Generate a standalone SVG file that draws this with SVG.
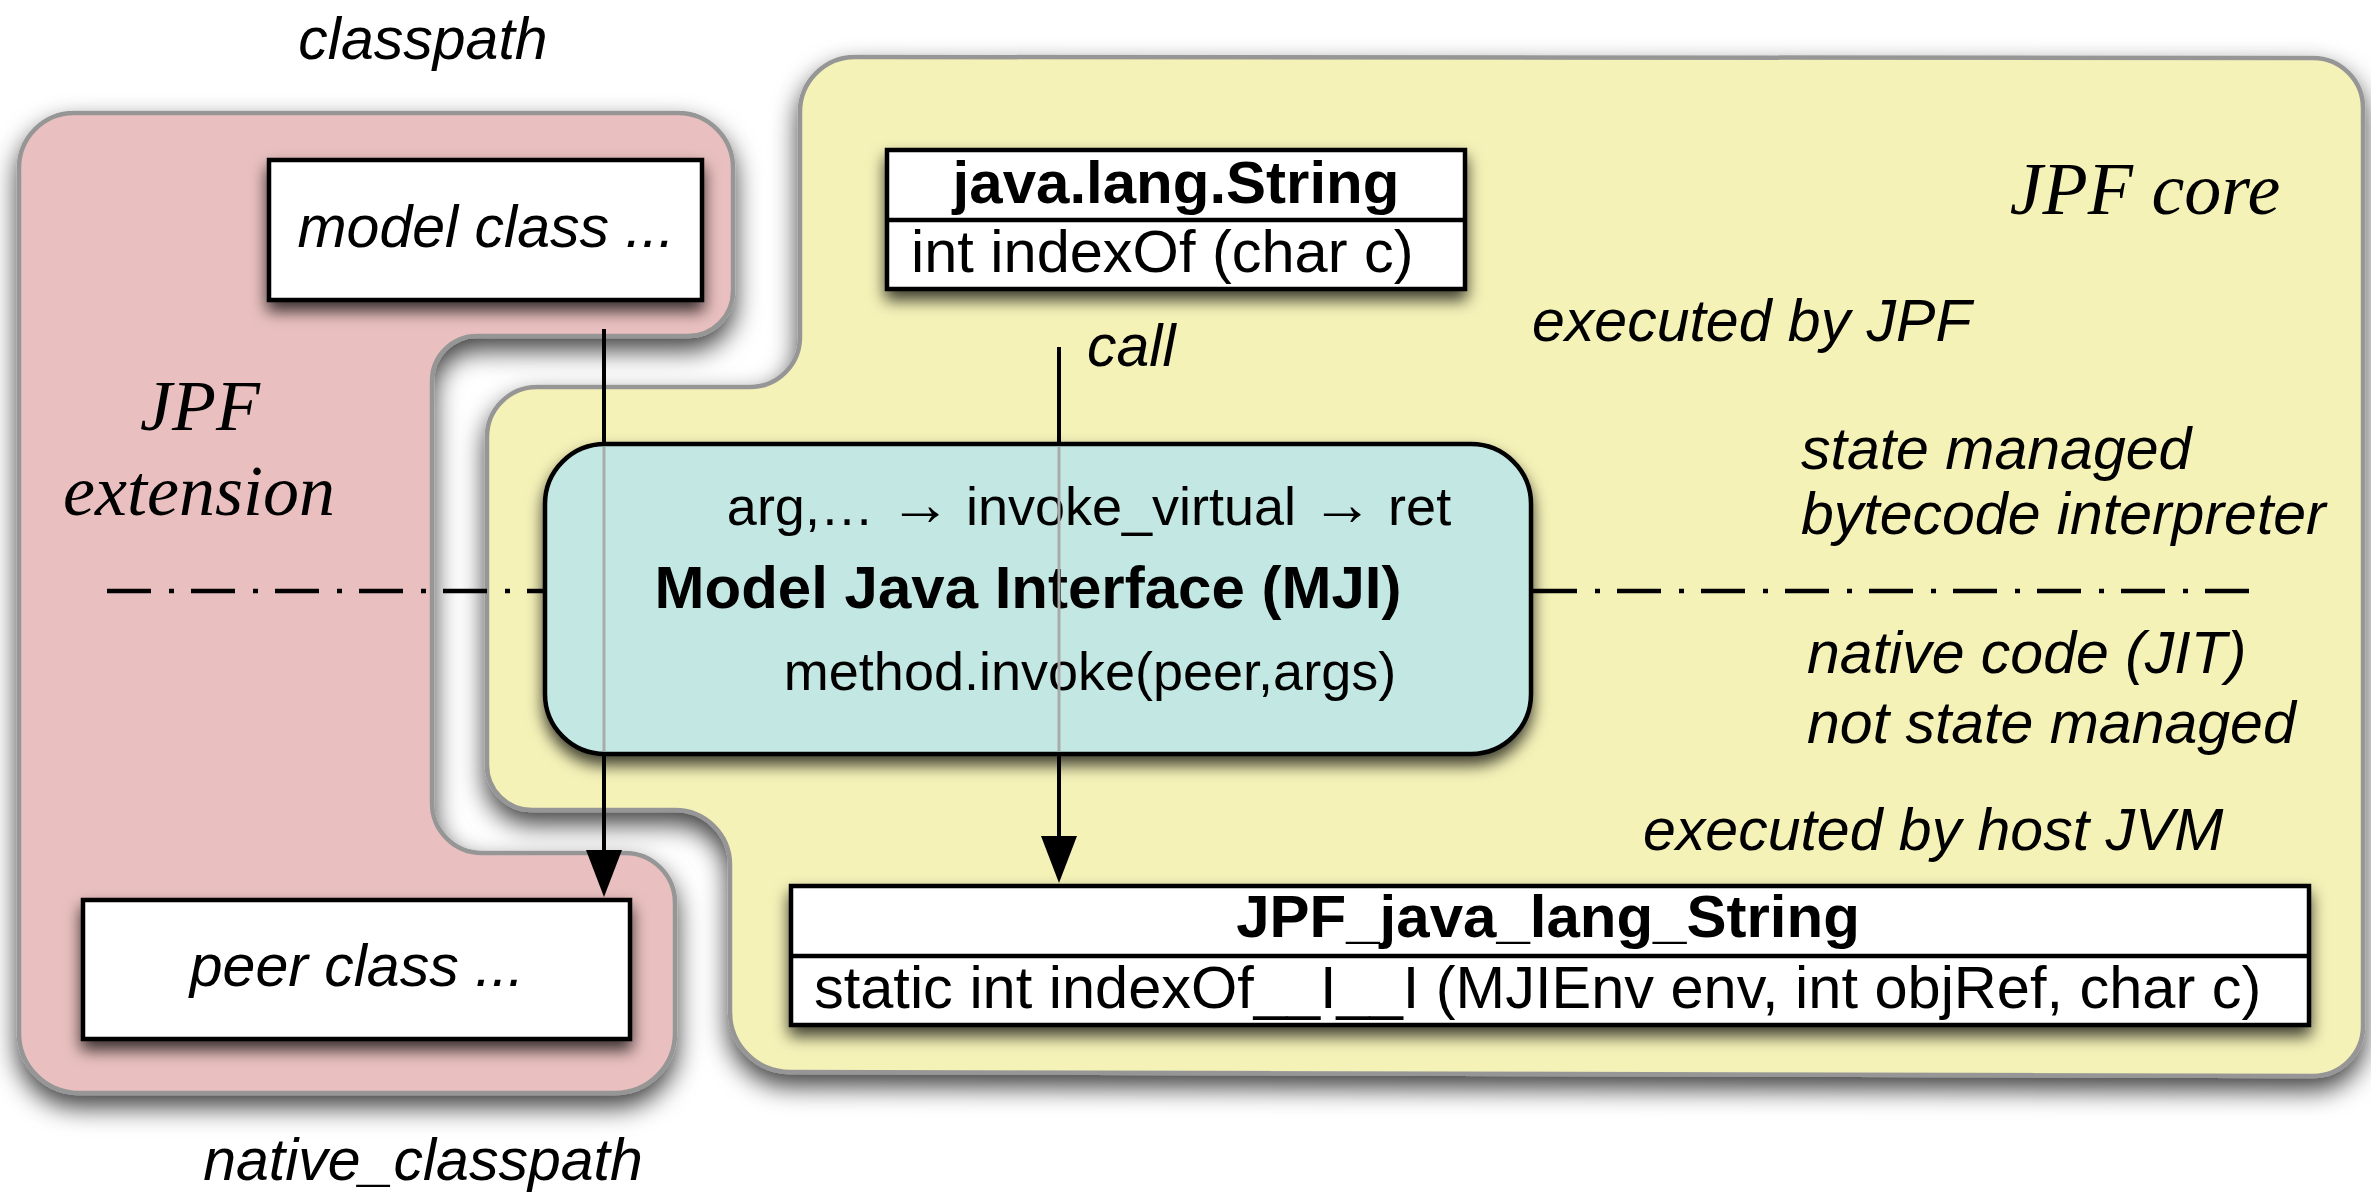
<svg xmlns="http://www.w3.org/2000/svg" width="2371" height="1195" viewBox="0 0 2371 1195">
<style>
.region{stroke:#969696;stroke-width:4.5}
.box{fill:#fff;stroke:#000;stroke-width:4.5}
.div{stroke:#000;stroke-width:4.5}
.sans{font-family:"Liberation Sans",Arial,sans-serif;fill:#000}
.it{font-style:italic;font-size:59px}
.reg{font-size:59.5px}
.small{font-size:54px}
.bold{font-weight:bold;font-size:60px}
.serif{font-family:"Liberation Serif","Times New Roman",serif;font-style:italic;fill:#000}
.conn{stroke:#000;stroke-width:4;fill:none}
.hidden{stroke:#aaaaaa;stroke-width:3;fill:none}
.dashdot{stroke:#000;stroke-width:4.5;stroke-dasharray:44 18 5 17;fill:none}
</style>
<defs>
<filter id="regionShadow" x="-10%" y="-10%" width="120%" height="130%">
<feDropShadow dx="0" dy="12" stdDeviation="13" flood-color="#000" flood-opacity="0.75"/>
</filter>
<filter id="boxShadow" x="-20%" y="-20%" width="140%" height="160%">
<feDropShadow dx="0" dy="9" stdDeviation="8" flood-color="#000" flood-opacity="0.75"/>
</filter>
<marker id="arrow" markerUnits="userSpaceOnUse" markerWidth="48" markerHeight="38" refX="0" refY="18" orient="auto">
<path d="M0,0 L47,18 L0,36 Z" fill="#000"/>
</marker>
</defs>
<rect x="0" y="0" width="2371" height="1195" fill="#fff"/>

<g id="jpf-extension">
<path class="region" fill="#e9c0bf" filter="url(#regionShadow)" d="M19,168 A55,55 0 0 1 74,113 L678,113 A55,55 0 0 1 733,168 L733,291 A45,45 0 0 1 688,336 L477,336 A45,45 0 0 0 432,381 L432,803 A50,50 0 0 0 482,853 L625,853 A50,50 0 0 1 675,903 L675,1033 A60,60 0 0 1 615,1093 L79,1093 A60,60 0 0 1 19,1033 Z"/>
<text class="serif" font-size="72" x="200" y="430" text-anchor="middle">JPF</text>
<text class="serif" font-size="72" x="199" y="515" text-anchor="middle">extension</text>
</g>

<g id="jpf-core">
<path class="region" fill="#f5f2b8" filter="url(#regionShadow)" d="M800,112 A55,55 0 0 1 855,57 L2313,58 A50,50 0 0 1 2363,108 L2363,1026 A50,50 0 0 1 2313,1076 L790,1072 A60,60 0 0 1 730,1012 L730,865 A55,55 0 0 0 675,810 L532,810 A45,45 0 0 1 487,765 L487,437 A50,50 0 0 1 537,387 L750,387 A50,50 0 0 0 800,337 Z"/>
<text class="serif" font-size="74" x="2145" y="214" text-anchor="middle">JPF core</text>
</g>

<g id="labels">
<text class="sans it" x="423" y="59" text-anchor="middle">classpath</text>
<text class="sans it" x="423" y="1180" text-anchor="middle">native_classpath</text>
<text class="sans it" x="1532" y="341">executed by JPF</text>
<text class="sans it" x="1801" y="469">state managed</text>
<text class="sans it" x="1801" y="534">bytecode interpreter</text>
<text class="sans it" x="1807" y="673">native code (JIT)</text>
<text class="sans it" x="1807" y="743">not state managed</text>
<text class="sans it" x="1643" y="850">executed by host JVM</text>
</g>

<g id="separator">
<line class="dashdot" x1="107" y1="591" x2="543" y2="591"/>
<line class="dashdot" x1="1533" y1="591" x2="2267" y2="591"/>
</g>

<g id="model-class">
<rect class="box" x="269" y="160" width="433" height="140" filter="url(#boxShadow)"/>
<text class="sans it" x="486" y="247" text-anchor="middle">model class ...</text>
</g>

<g id="peer-class">
<rect class="box" x="83" y="900" width="547" height="139" filter="url(#boxShadow)"/>
<text class="sans it" x="357" y="986" text-anchor="middle">peer class ...</text>
</g>

<g id="java-lang-string">
<rect class="box" x="887" y="150" width="578" height="139" filter="url(#boxShadow)"/>
<line class="div" x1="887" y1="220" x2="1465" y2="220"/>
<text class="sans bold" x="1176" y="203" text-anchor="middle">java.lang.String</text>
<text class="sans reg" x="911" y="272">int indexOf (char c)</text>
</g>

<g id="jpf-java-lang-string">
<rect class="box" x="791" y="886" width="1518" height="139" filter="url(#boxShadow)"/>
<line class="div" x1="791" y1="956" x2="2309" y2="956"/>
<text class="sans bold" x="1548" y="937" text-anchor="middle">JPF_java_lang_String</text>
<text class="sans reg" x="814" y="1008">static int indexOf__I__I (MJIEnv env, int objRef, char c)</text>
</g>

<g id="mji">
<rect x="545" y="444" width="986" height="310" rx="60" ry="60" fill="#c3e8e4" stroke="#000" stroke-width="4.5" filter="url(#boxShadow)"/>
<text class="sans small" x="1089" y="525" text-anchor="middle">arg,… <tspan font-size="62">→</tspan> invoke_virtual <tspan font-size="62">→</tspan> ret</text>
<text class="sans bold" x="1028" y="608" text-anchor="middle">Model Java Interface (MJI)</text>
<text class="sans small" x="1090" y="690" text-anchor="middle">method.invoke(peer,args)</text>
</g>

<g id="connectors">
<line class="conn" x1="604" y1="329" x2="604" y2="442"/>
<line class="hidden" x1="604" y1="447" x2="604" y2="751"/>
<line class="conn" x1="604" y1="756" x2="604" y2="850" marker-end="url(#arrow)"/>
<line class="conn" x1="1059" y1="347" x2="1059" y2="442"/>
<line class="hidden" x1="1059" y1="447" x2="1059" y2="751"/>
<line class="conn" x1="1059" y1="756" x2="1059" y2="836" marker-end="url(#arrow)"/>
<text class="sans it" x="1087" y="366">call</text>
</g>
</svg>
